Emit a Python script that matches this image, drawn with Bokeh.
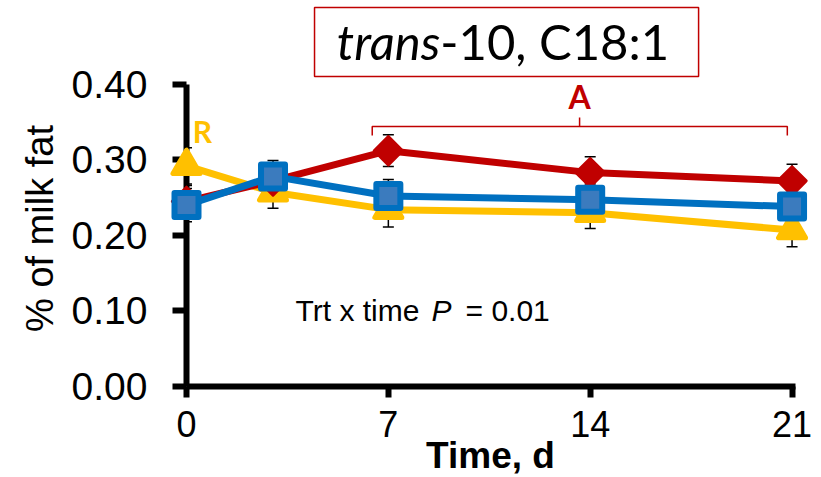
import numpy as np
from bokeh.plotting import figure
from bokeh.models import (ColumnDataSource, Range1d, LinearAxis, FixedTicker,
                          NumeralTickFormatter, Whisker, TeeHead, Label)
from bokeh.core.properties import value
from bokeh.embed import file_html
from bokeh.resources import INLINE

# Sampling days and treatment means (% of milk fat) with their standard errors
days = [0, 3, 7, 14, 21]
red_vals = [0.245, 0.272, 0.312, 0.283, 0.272]
red_se = [0.021, 0.021, 0.021, 0.021, 0.022]
blue_vals = [0.240, 0.278, 0.252, 0.247, 0.238]
blue_se = [0.022, 0.021, 0.022, 0.021, 0.021]
yellow_vals = [0.292, 0.257, 0.234, 0.230, 0.207]
yellow_se = [0.024, 0.021, 0.023, 0.021, 0.022]

x_ticks = [0, 7, 14, 21]
y_ticks = [0.0, 0.1, 0.2, 0.3, 0.4]

RED = "#C00000"
BLUE = "#0070C0"
BLUE_FILL = "#3B7BBE"
YELLOW = "#FFC000"

# frame: 28.83 px per day, 755.75 px per unit of % fat
p = figure(width=821, height=477,
           x_range=Range1d(0, 21.64), y_range=Range1d(0, 0.4181),
           output_backend="svg", toolbar_location=None,
           x_axis_location=None, y_axis_location=None,
           min_border_left=186, min_border_right=11, min_border_top=70, min_border_bottom=91)
p.outline_line_color = None
p.xgrid.visible = False
p.ygrid.visible = False
p.background_fill_color = "white"
p.border_fill_color = "white"

yaxis = LinearAxis(ticker=FixedTicker(ticks=y_ticks),
                   formatter=NumeralTickFormatter(format="0.00"),
                   bounds=(-0.015, 0.40))
xaxis = LinearAxis(ticker=FixedTicker(ticks=x_ticks), bounds=(-0.475, 21.12))
for ax in (xaxis, yaxis):
    ax.axis_line_width = 6
    ax.axis_line_color = "black"
    ax.major_tick_line_width = 6
    ax.major_tick_line_color = "black"
    ax.major_tick_in = 0
    ax.minor_tick_in = 0
    ax.minor_tick_out = 0
    ax.major_label_text_font = "Liberation Sans"
    ax.major_label_text_color = "black"
    ax.axis_label_text_font = "Liberation Sans"
    ax.axis_label_text_color = "black"
yaxis.major_tick_out = 14
yaxis.major_label_standoff = 25
yaxis.major_label_text_font_size = "39px"
yaxis.axis_label = "% of milk fat"
yaxis.axis_label_text_font_size = "38px"
yaxis.axis_label_text_font_style = "normal"
yaxis.axis_label_standoff = 8
xaxis.major_tick_out = 11
xaxis.major_label_standoff = 13
xaxis.major_label_text_font_size = "36px"
p.add_layout(yaxis, "left")
p.add_layout(xaxis, "below")

# x-axis title tucked between the 7 and 14 tick labels
p.text(x=[10.544], y=[-0.0908], text=["Time, d"], text_align="center",
       text_baseline="alphabetic", text_font=value("Liberation Sans"),
       text_font_style="bold", text_font_size="37px", text_color="black", level="overlay")

# error bars sit underneath the series
def add_errors(vals, se):
    src = ColumnDataSource(dict(
        x=days,
        upper=[v + s for v, s in zip(vals, se)],
        lower=[v - s for v, s in zip(vals, se)]))
    w = Whisker(base="x", upper="upper", lower="lower", source=src,
                line_color="black", line_width=1.5, level="underlay",
                upper_head=TeeHead(size=11, line_width=1.5, line_color="black"),
                lower_head=TeeHead(size=11, line_width=1.5, line_color="black"))
    p.add_layout(w)

add_errors(yellow_vals, yellow_se)
add_errors(red_vals, red_se)
add_errors(blue_vals, blue_se)

# series drawn above the axes so the day-0 markers overlap the y axis
# yellow triangles
p.line(days, yellow_vals, line_color=YELLOW, line_width=7, line_join="round", level="overlay")
p.scatter(days, yellow_vals, marker="triangle", size=27, fill_color=YELLOW,
          line_color=YELLOW, line_width=5, line_join="round", level="overlay")
# red diamonds
p.line(days, red_vals, line_color=RED, line_width=7, line_join="round", level="overlay")
p.scatter(days, red_vals, marker="square", angle=np.pi / 4, size=20, fill_color=RED,
          line_color=RED, line_width=3, line_join="round", level="overlay")
# blue squares
p.line(days, blue_vals, line_color=BLUE, line_width=7, line_join="round", level="overlay")
p.scatter(days, blue_vals, marker="square", size=24, fill_color=BLUE_FILL,
          line_color=BLUE, line_width=6, line_join="round", level="overlay")

# significance bracket over days 7-21
br_left, br_mid, br_right = 6.441, 13.632, 20.836
br_low, br_line, br_tip = 0.3321, 0.3440, 0.3559
p.line([br_left, br_left, br_mid, br_mid, br_mid, br_right, br_right],
       [br_low, br_line, br_line, br_tip, br_line, br_line, br_low],
       line_color=RED, line_width=1.5, level="overlay")
p.add_layout(Label(x=br_mid, y=0.3840, text="A", text_align="center",
                   text_baseline="alphabetic", text_font="Lato", text_font_style="bold",
                   text_font_size="32px", text_color=RED))
p.add_layout(Label(x=0.555, y=0.3387, text="R", text_align="center",
                   text_baseline="alphabetic", text_font="Lato", text_font_style="bold",
                   text_font_size="30px", text_color=YELLOW))

# boxed title above the plotting area
p.quad(left=[4.440], right=[17.759], bottom=[0.4102], top=[0.5015],
       fill_color=None, line_color=RED, line_width=1.5, level="overlay")
p.text(x=[8.800], y=[0.4565], text=["trans"], text_align="right",
       text_baseline="alphabetic", text_font=value("Lato"), text_font_style="italic",
       text_font_size="49px", text_color="black", level="overlay")
p.text(x=[8.800], y=[0.4565], text=["-10, C18:1"], text_align="left",
       text_baseline="alphabetic", text_font=value("Lato"),
       text_font_size="49px", text_color="black", level="overlay")

# interaction P-value
p.add_layout(Label(x=3.781, y=0.1006, text="Trt x time", text_baseline="alphabetic",
                   text_font="Liberation Sans", text_font_size="30px", text_color="black"))
p.add_layout(Label(x=8.498, y=0.1006, text="P", text_baseline="alphabetic",
                   text_font="Liberation Sans", text_font_style="italic",
                   text_font_size="30px", text_color="black"))
p.add_layout(Label(x=9.677, y=0.1006, text="= 0.01", text_baseline="alphabetic",
                   text_font="Liberation Sans", text_font_size="30px", text_color="black"))

open("out.html", "w").write(file_html(p, INLINE))
